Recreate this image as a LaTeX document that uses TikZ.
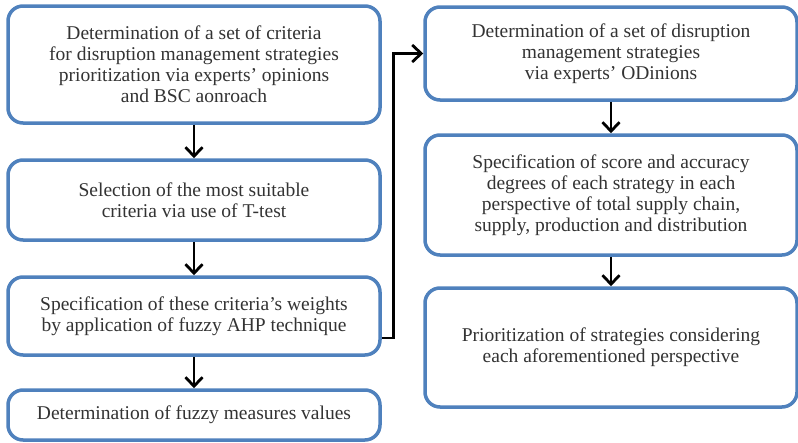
\documentclass[tikz,border=0pt]{standalone}
\usepackage{fontspec}
\setmainfont{Liberation Serif}
\usetikzlibrary{arrows.meta}
\definecolor{boxblue}{HTML}{4F81BD}
\definecolor{txtgray}{HTML}{333333}
\tikzstyle{stage}=[draw=boxblue, line width=3.5pt, rounded corners=15pt, fill=white,
  align=center, inner sep=0pt, text=txtgray, font=\fontsize{19.5}{21}\selectfont]
\tikzstyle{arr}=[line width=2.8pt, -{Straight Barb[length=9pt, width=17pt, line width=2.8pt]}]
\newcommand{\stage}{\node[stage]}

\begin{document}
\begin{tikzpicture}[x=1pt, y=-1pt]
\useasboundingbox (0,0) rectangle (798,442);
%left column
\stage[minimum width=372pt, minimum height=117pt] (l1) at (194,64.5)
  {Determination of a set of criteria\\for disruption management strategies\\prioritization via experts' opinions\\and BSC aonroach};
\stage[minimum width=372pt, minimum height=80pt] (l2) at (194,200)
  {Selection of the most suitable\\criteria via use of T-test};
\stage[minimum width=372pt, minimum height=78pt] (l3) at (194,316)
  {Specification of these criteria's weights\\by application of fuzzy AHP technique};
\stage[minimum width=372pt, minimum height=50pt] (l4) at (194,415)
  {Determination of fuzzy measures values};
%right column
\stage[minimum width=372pt, minimum height=93pt] (r1) at (611,53.5)
  {Determination of a set of disruption\\management strategies\\via experts' ODinions};
\stage[minimum width=372pt, minimum height=120pt] (r2) at (611,195)
  {Specification of score and accuracy\\degrees of each strategy in each\\perspective of total supply chain,\\supply, production and distribution};
\stage[minimum width=372pt, minimum height=119pt] (r3) at (611,347.5)
  {Prioritization of strategies considering\\each aforementioned perspective};
%arrows
\foreach \a/\b in {l1/l2, l2/l3, l3/l4, r1/r2, r2/r3}{
	\draw[arr] (\a.south) -- (\b.north);}
\draw[arr] ([yshift=-22pt]l3.east) -- ++(12,0) |- (r1.west);
\end{tikzpicture}
\end{document}
